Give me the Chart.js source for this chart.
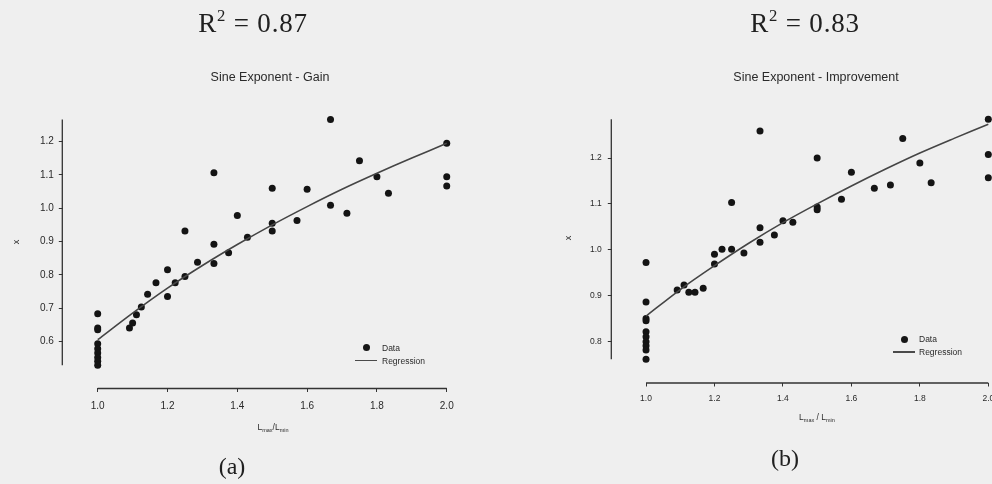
<!DOCTYPE html>
<html>
<head>
<meta charset="utf-8">
<script src="https://cdn.jsdelivr.net/npm/chart.js@4.4.1/dist/chart.umd.min.js"></script>
<style>
  html, body { margin: 0; padding: 0; background: #efefef; width: 992px; height: 484px; overflow: hidden; position: relative; }
  canvas { position: absolute; top: 0; }
  .t { position: absolute; transform: translate(-50%, -50%); white-space: nowrap; }
  .r2 { font-family: "Liberation Serif", serif; font-size: 27px; color: #202020; letter-spacing: 0.8px; }
  .r2 sup { font-size: 0.62em; position: relative; top: -0.15em; vertical-align: top; }
  .cap { font-family: "Liberation Serif", serif; font-size: 24px; color: #202020; }
  .ttl { font-family: "Liberation Sans", Arial, sans-serif; font-size: 12.5px; color: #2a2a2a; }
  .axt { font-family: "Liberation Sans", Arial, sans-serif; font-size: 8.5px; color: #2a2a2a; }
  .axt sub { font-size: 5.5px; vertical-align: -2px; }
  .ylab { font-family: "Liberation Sans", Arial, sans-serif; font-size: 9px; color: #2a2a2a; transform: translate(-50%, -50%) rotate(-90deg); }
  .lg { position: absolute; font-family: "Liberation Sans", Arial, sans-serif; font-size: 8.5px; color: #2a2a2a; }
  .lg .row { display: flex; align-items: center; height: 13px; }
  .lg .sym { width: 22px; height: 13px; position: relative; }
  .lg .dot { position: absolute; left: 50%; top: 50%; width: 7px; height: 7px; margin: -3.5px 0 0 -3.5px; border-radius: 50%; background: #161616; }
  .lg .ln { position: absolute; left: 0; right: 0; top: 50%; height: 1.5px; margin-top: -0.75px; background: #4a4a4a; }
</style>
</head>
<body>
<canvas id="gain" width="496" height="484" style="left:0;width:496px;height:484px"></canvas>
<canvas id="improve" width="540" height="484" style="left:496px;width:540px;height:484px"></canvas>

<div class="t r2" style="left:253px;top:23px">R<sup>2</sup> = 0.87</div>
<div class="t r2" style="left:805px;top:23px">R<sup>2</sup> = 0.83</div>
<div class="t ttl" style="left:270px;top:77px">Sine Exponent - Gain</div>
<div class="t ttl" style="left:816px;top:77px">Sine Exponent - Improvement</div>
<div class="t ylab" style="left:16px;top:242px">x</div>
<div class="t ylab" style="left:568px;top:238px">x</div>
<div class="t axt" style="left:273px;top:427px">L<sub>max</sub>/L<sub>min</sub></div>
<div class="t axt" style="left:817px;top:417px">L<sub>max</sub> / L<sub>min</sub></div>
<div class="t cap" style="left:232px;top:466px">(a)</div>
<div class="t cap" style="left:785px;top:458px">(b)</div>

<div class="lg" style="left:355px;top:341px">
  <div class="row"><div class="sym"><div class="dot"></div></div><span style="margin-left:5px">Data</span></div>
  <div class="row"><div class="sym"><div class="ln"></div></div><span style="margin-left:5px">Regression</span></div>
</div>
<div class="lg" style="left:893px;top:332.5px">
  <div class="row"><div class="sym"><div class="dot"></div></div><span style="margin-left:4px">Data</span></div>
  <div class="row"><div class="sym"><div class="ln"></div></div><span style="margin-left:4px">Regression</span></div>
</div>

<script>
// Sine exponent x against the length ratio Lmax/Lmin
const gainRatio = [1.0, 1.0, 1.0, 1.0, 1.0, 1.0, 1.0, 1.0, 1.0,
  1.091, 1.1, 1.111, 1.125, 1.143, 1.167, 1.2, 1.2, 1.222, 1.25, 1.25,
  1.286, 1.333, 1.333, 1.333, 1.375, 1.4, 1.429, 1.5, 1.5, 1.5,
  1.571, 1.6, 1.667, 1.667, 1.714, 1.75, 1.8, 1.833, 2.0, 2.0, 2.0];
const gainX = [0.683, 0.640, 0.635, 0.593, 0.578, 0.565, 0.552, 0.540, 0.528,
  0.640, 0.655, 0.680, 0.703, 0.742, 0.776, 0.735, 0.815, 0.776, 0.795, 0.932,
  0.838, 0.834, 0.892, 1.107, 0.866, 0.978, 0.913, 1.060, 0.955, 0.932,
  0.963, 1.057, 1.267, 1.009, 0.985, 1.143, 1.095, 1.045, 1.195, 1.095, 1.067];

const improveRatio = [1.0, 1.0, 1.0, 1.0, 1.0, 1.0, 1.0, 1.0, 1.0, 1.0,
  1.091, 1.111, 1.125, 1.143, 1.167, 1.2, 1.2, 1.222, 1.25, 1.25,
  1.286, 1.333, 1.333, 1.333, 1.375, 1.4, 1.429, 1.5, 1.5, 1.5,
  1.571, 1.6, 1.667, 1.714, 1.75, 1.8, 1.833, 2.0, 2.0, 2.0];
const improveX = [0.972, 0.886, 0.850, 0.845, 0.821, 0.810, 0.799, 0.790, 0.781, 0.761,
  0.912, 0.923, 0.907, 0.907, 0.916, 0.969, 0.990, 1.001, 1.001, 1.103,
  0.993, 1.259, 1.048, 1.016, 1.032, 1.063, 1.060, 1.200, 1.093, 1.087,
  1.110, 1.169, 1.134, 1.141, 1.243, 1.189, 1.146, 1.285, 1.208, 1.157];

// Fitted regression curves, sampled along the ratio axis
const fitRatio = [1.0, 1.1, 1.2, 1.3, 1.4, 1.5, 1.6, 1.7, 1.8, 1.9, 2.0];
const gainFit = [0.605, 0.685, 0.760, 0.828, 0.891, 0.950, 1.005, 1.057, 1.105, 1.151, 1.195];
const improveFit = [0.855, 0.913, 0.965, 1.014, 1.059, 1.100, 1.139, 1.176, 1.211, 1.243, 1.274];

// Tick positions
const ratioTicks = [1.0, 1.2, 1.4, 1.6, 1.8, 2.0];
const gainTicks = [0.6, 0.7, 0.8, 0.9, 1.0, 1.1, 1.2];
const improveTicks = [0.8, 0.9, 1.0, 1.1, 1.2];

const toPoints = (xs, ys) => xs.map((v, i) => ({ x: v, y: ys[i] }));

// Detached axis lines spanning the data range only
const axisLines = {
  id: 'axisLines',
  afterDraw(chart, args, o) {
    const { ctx, scales: { x, y } } = chart;
    ctx.save();
    ctx.strokeStyle = '#333';
    ctx.lineWidth = 1.3;
    ctx.beginPath();
    ctx.moveTo(x.getPixelForValue(o.xFrom), y.bottom + 0.5);
    ctx.lineTo(x.getPixelForValue(o.xTo), y.bottom + 0.5);
    ctx.moveTo(x.left - 0.5, y.getPixelForValue(o.yFrom));
    ctx.lineTo(x.left - 0.5, y.getPixelForValue(o.yTo));
    ctx.stroke();
    ctx.restore();
  }
};

function panel(id, xs, ys, fit, yTicks, cfg) {
  const font = { family: '"Liberation Sans", Arial, sans-serif', size: cfg.tickSize };
  return new Chart(document.getElementById(id), {
    type: 'scatter',
    data: {
      datasets: [
        {
          label: 'Regression',
          type: 'line',
          data: toPoints(fitRatio, fit),
          borderColor: '#454545',
          borderWidth: 1.6,
          pointRadius: 0,
          tension: 0.3,
          fill: false,
          order: 0
        },
        {
          label: 'Data',
          data: toPoints(xs, ys),
          backgroundColor: '#141414',
          borderWidth: 0,
          pointRadius: 3.5,
          order: 1
        }
      ]
    },
    options: {
      responsive: false,
      animation: false,
      devicePixelRatio: 1,
      layout: { padding: cfg.padding },
      plugins: {
        legend: { display: false },
        tooltip: { enabled: false },
        axisLines: {
          xFrom: Math.min(...xs), xTo: Math.max(...xs),
          yFrom: Math.min(...ys), yTo: Math.max(...ys)
        }
      },
      scales: {
        x: {
          type: 'linear',
          min: 0.9, max: 2.04,
          afterFit: s => { s.height = 30; },
          afterBuildTicks: s => { s.ticks = ratioTicks.map(v => ({ value: v })); },
          border: { display: false },
          grid: { drawOnChartArea: false, drawTicks: true, tickLength: 4, color: '#333', tickWidth: 1 },
          ticks: { font, color: '#2a2a2a', padding: cfg.xPad, autoSkip: false, maxRotation: 0, callback: v => v.toFixed(1) }
        },
        y: {
          type: 'linear',
          min: cfg.yMin, max: cfg.yMax,
          afterFit: s => { s.width = 40; },
          afterBuildTicks: s => { s.ticks = yTicks.map(v => ({ value: v })); },
          border: { display: false },
          grid: { drawOnChartArea: false, drawTicks: true, tickLength: 4, color: '#333', tickWidth: 1 },
          ticks: { font, color: '#2a2a2a', padding: cfg.yPad, autoSkip: false, callback: v => v.toFixed(1) }
        }
      }
    },
    plugins: [axisLines]
  });
}

panel('gain', gainRatio, gainX, gainFit, gainTicks, {
  yMin: 0.46, yMax: 1.30, tickSize: 10, xPad: 8, yPad: 5,
  padding: { left: 22.8, right: 35.3, top: 108.4, bottom: 66 }
});

panel('improve', improveRatio, improveX, improveFit, improveTicks, {
  yMin: 0.71, yMax: 1.31, tickSize: 8.5, xPad: 7, yPad: 6,
  padding: { left: 75.8, right: 34, top: 107.7, bottom: 71.5 }
});
</script>
</body>
</html>
